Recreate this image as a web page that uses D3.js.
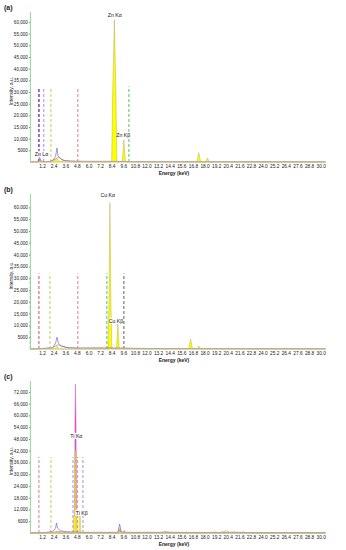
<!DOCTYPE html>
<html>
<head>
<meta charset="utf-8">
<script src="https://cdn.jsdelivr.net/npm/d3@7"></script>
<style>
  body { margin: 0; background: #fff; }
  svg { display: block; font-family: "Liberation Sans", Arial, sans-serif; }
</style>
</head>
<body>
<div id="chart-container"></div>
<script>
// shared x ticks (keV)
const xTicks = [1.2, 2.4, 3.6, 4.8, 6.0, 7.2, 8.4, 9.6, 10.8, 12.0, 13.2, 14.4, 15.6, 16.8,
  18.0, 19.2, 20.4, 21.6, 22.8, 24.0, 25.2, 26.4, 27.6, 28.8, 30.0];

const yTicksA = [5000, 10000, 15000, 20000, 25000, 30000, 35000, 40000, 45000, 50000, 55000, 60000];
const yTicksB = [5000, 10000, 15000, 20000, 25000, 30000, 35000, 40000, 45000, 50000, 55000, 60000];
const yTicksC = [6000, 12000, 18000, 24000, 30000, 36000, 42000, 48000, 54000, 60000, 66000, 72000];

// (a) Zn spectrum, [keV, counts]
const fillA = [[0,0],[0.9,0],[1.0,1200],[1.1,0],[2.4,0],[2.7,1500],[3.0,300],[3.5,0],[8.4,0],
  [8.5,29000],[8.68,61000],[8.84,29000],[8.94,0],[9.5,0],[9.66,9500],[9.82,0],[17.2,0],
  [17.4,4000],[17.6,0],[18.1,0],[18.3,1700],[18.5,0],[30.5,0]];
const purpleA = [[0,0],[0.8,300],[0.95,2000],[1.1,400],[1.6,100],[2.3,400],[2.6,2500],[2.75,6000],
  [2.85,2500],[3.1,1500],[3.5,600],[4.2,300],[5.5,200],[8.2,200],[12,150],[30.5,100]];
const orangeA = [[0,0],[2.0,200],[2.7,1500],[2.95,2200],[3.3,800],[4.2,400],[6,300],[8.3,300],[12,100],[30.5,0]];
const markersA = [
  { el: "violet", e: 0.88, h: 32000 },
  { el: "lavender", e: 1.38, h: 32000 },
  { el: "olive", e: 2.12, h: 32000 },
  { el: "pink", e: 4.9, h: 32000 },
  { el: "green", e: 10.18, h: 32500 }
];
const labelsA = [
  { text: "Zn Kα", e: 8.72, v: 63000 },
  { text: "Zn Kβ", e: 9.6, v: 11600 },
  { text: "Zn Lα", e: 1.15, v: 3400 }
];

// (b) Cu spectrum
const fillB = [[0,0],[2.5,0],[2.75,1200],[3.0,0],[8.02,0],[8.12,20000],[8.22,62000],[8.32,20000],
  [8.42,0],[8.9,0],[9.04,11000],[9.18,0],[16.35,0],[16.55,4200],[16.75,0],[17.25,0],[17.4,1300],
  [17.6,0],[30.5,0]];
const purpleB = [[0,0],[1.0,200],[2.3,500],[2.6,2500],[2.75,5000],[2.9,2500],[3.2,1200],[4.0,500],
  [5,300],[8,300],[12,200],[30.5,100]];
const orangeB = [[0,0],[2.2,300],[2.8,1800],[3.1,1500],[3.7,600],[4.6,400],[7.6,500],[12,200],[30.5,100]];
const markersB = [
  { el: "blue", e: 0.0, h: 30500 },
  { el: "red", e: 0.88, h: 32000 },
  { el: "olive", e: 2.02, h: 32000 },
  { el: "pink", e: 4.9, h: 32000 },
  { el: "green", e: 7.9, h: 32000 },
  { el: "gray", e: 9.66, h: 32000 }
];
const labelsB = [
  { text: "Cu Kα", e: 8.0, v: 65300 },
  { text: "Cu Kβ", e: 8.85, v: 11900 }
];

// (c) Ti spectrum
const magentaC = [[0,0],[4.58,0],[4.6,55000],[4.66,76000],[4.72,55000],[4.76,0],[30.5,0]];
const fillC = [[0,0],[2.5,0],[2.7,600],[3.0,0],[4.45,0],[4.47,8500],[4.6,8800],[4.62,42000],
  [4.72,42000],[4.74,8800],[4.8,8500],[4.82,0],[5.02,0],[5.04,8500],[5.16,8500],[5.18,0],[9.1,0],
  [9.25,2500],[9.4,0],[9.6,0],[9.7,1000],[9.8,0],[30.5,0]];
const purpleC = [[0,0],[1.5,200],[2.3,800],[2.6,2500],[2.7,5100],[2.8,2500],[3.1,1200],[3.7,600],
  [4.4,500],[5.3,300],[9.05,300],[9.22,4600],[9.38,500],[9.6,300],[9.7,1200],[9.8,300],[13.5,300],
  [14,600],[14.5,300],[30.5,200]];
const oliveC = [[0,0],[18.5,0],[19,500],[19.5,200],[20,700],[20.3,1200],[20.6,300],[21,600],
  [21.5,300],[22,500],[22.5,0],[30.5,0]];
const orangeC = [[0,0],[2.3,300],[2.8,800],[3.4,400],[4.3,400],[5.4,300],[9.1,300],[9.25,1500],
  [9.4,300],[14,300],[30.5,100]];
const markersC = [
  { el: "pink", e: 0.88, h: 38800 },
  { el: "olive", e: 2.12, h: 38800 },
  { el: "lavender", e: 4.4, h: 38800 },
  { el: "pink", e: 4.85, h: 38800 },
  { el: "lavender", e: 5.43, h: 38800 }
];
const labelsC = [
  { text: "Ti Kα", e: 4.75, v: 49500 },
  { text: "Ti Kβ", e: 5.3, v: 10200 }
];

const markerColor = {
  violet: "#9a5cc0", lavender: "#a8a0e0", olive: "#c9d46a", pink: "#e48a8a",
  green: "#6cc46c", red: "#d86060", gray: "#707070", blue: "#7a80e0"
};

const W = 346, H = 550;
const xLeft = 30.4, xRight = 326;

const svg = d3.select("#chart-container")
  .append("svg")
  .attr("width", W)
  .attr("height", H);

svg.append("rect").attr("width", W).attr("height", H).attr("fill", "#fff");

const x = d3.scaleLinear().domain([0, 30.55]).range([xLeft, xRight]);
const tickFmt = d => d >= 10000 ? d3.format(",")(d) : String(d);

const panels = [
  { tag: "(a)", top: 12, bottom: 162, yMax: 64300, ticks: yTicksA, markers: markersA, labels: labelsA,
    magenta: null, fill: fillA, lines: [[orangeA, "#e07840"], [purpleA, "#7868c8"]] },
  { tag: "(b)", top: 194, bottom: 349, yMax: 65700, ticks: yTicksB, markers: markersB, labels: labelsB,
    magenta: null, fill: fillB, lines: [[orangeB, "#e07840"], [purpleB, "#7868c8"]] },
  { tag: "(c)", top: 381, bottom: 533, yMax: 77600, ticks: yTicksC, markers: markersC, labels: labelsC,
    magenta: magentaC, fill: fillC,
    lines: [[oliveC, "#aab860"], [orangeC, "#e07840"], [purpleC, "#7868c8"]] }
];

panels.forEach(p => {
  const y = d3.scaleLinear().domain([0, p.yMax]).range([p.bottom, p.top]);
  const g = svg.append("g");

  const area = d3.area().x(d => x(d[0])).y0(p.bottom).y1(d => y(d[1]));
  const line = d3.line().x(d => x(d[0])).y(d => y(d[1]));

  // element marker lines
  g.selectAll(".marker")
    .data(p.markers)
    .join("line")
    .attr("x1", d => x(d.e)).attr("x2", d => x(d.e))
    .attr("y1", p.bottom).attr("y2", d => y(d.h))
    .attr("stroke", d => markerColor[d.el])
    .attr("stroke-width", d => d.el === "violet" ? 1.8 : 1.1)
    .attr("stroke-dasharray", "3,2");

  if (p.magenta) {
    g.append("path").datum(p.magenta)
      .attr("d", area)
      .attr("fill", "#e454e0")
      .attr("stroke", "#d040d0")
      .attr("stroke-width", 0.4);
  }

  g.append("path").datum(p.fill)
    .attr("d", area)
    .attr("fill", "#ffff00")
    .attr("fill-opacity", p.magenta ? 0.8 : 1)
    .attr("stroke", "#a8a040")
    .attr("stroke-width", 0.4);

  p.lines.forEach(([data, col]) => {
    g.append("path").datum(data)
      .attr("d", line)
      .attr("fill", "none")
      .attr("stroke", col)
      .attr("stroke-width", 0.7);
  });

  // axes
  g.append("line")
    .attr("x1", xLeft).attr("x2", xRight)
    .attr("y1", p.bottom).attr("y2", p.bottom)
    .attr("stroke", "#d6dc96").attr("stroke-width", 1);
  g.append("line")
    .attr("x1", xLeft).attr("x2", xLeft)
    .attr("y1", p.top).attr("y2", p.bottom)
    .attr("stroke", "#92d892").attr("stroke-width", 1);

  const yAxis = g.append("g")
    .attr("transform", `translate(${xLeft},0)`)
    .call(d3.axisLeft(y).tickValues(p.ticks).tickFormat(tickFmt).tickSize(1.5).tickPadding(1));
  yAxis.select(".domain").remove();
  yAxis.selectAll("line").attr("stroke", "#999");
  yAxis.selectAll("text").attr("font-size", 4.6).attr("fill", "#222");

  const xAxis = g.append("g")
    .attr("transform", `translate(0,${p.bottom})`)
    .call(d3.axisBottom(x).tickValues(xTicks).tickFormat(d3.format(".1f")).tickSize(0).tickPadding(3));
  xAxis.select(".domain").remove();
  xAxis.selectAll("text").attr("font-size", 4.8).attr("fill", "#222");

  g.append("text")
    .attr("x", 174).attr("y", p.bottom + 13)
    .attr("text-anchor", "middle")
    .attr("font-size", 5).attr("font-weight", "bold").attr("fill", "#222")
    .text("Energy (keV)");

  g.append("text")
    .attr("transform", "rotate(-90)")
    .attr("x", -(p.top + p.bottom) / 2 - 4).attr("y", 12.5)
    .attr("text-anchor", "middle")
    .attr("font-size", 4.8).attr("fill", "#222")
    .text("Intensity, a.u.");

  g.append("text")
    .attr("x", 4).attr("y", p.top - 2.5)
    .attr("font-size", 7).attr("font-weight", "bold").attr("fill", "#222")
    .text(p.tag);

  const lab = g.selectAll(".peak")
    .data(p.labels)
    .join("g")
    .attr("transform", d => `translate(${x(d.e)},${y(d.v)})`);
  lab.append("rect")
    .attr("x", -6.5).attr("y", -3.2).attr("width", 13).attr("height", 6.2)
    .attr("fill", "#fff").attr("fill-opacity", 0.85);
  lab.append("text")
    .attr("text-anchor", "middle").attr("dy", 1.9)
    .attr("font-size", 5.2).attr("fill", "#111")
    .text(d => d.text);
});
</script>
</body>
</html>
